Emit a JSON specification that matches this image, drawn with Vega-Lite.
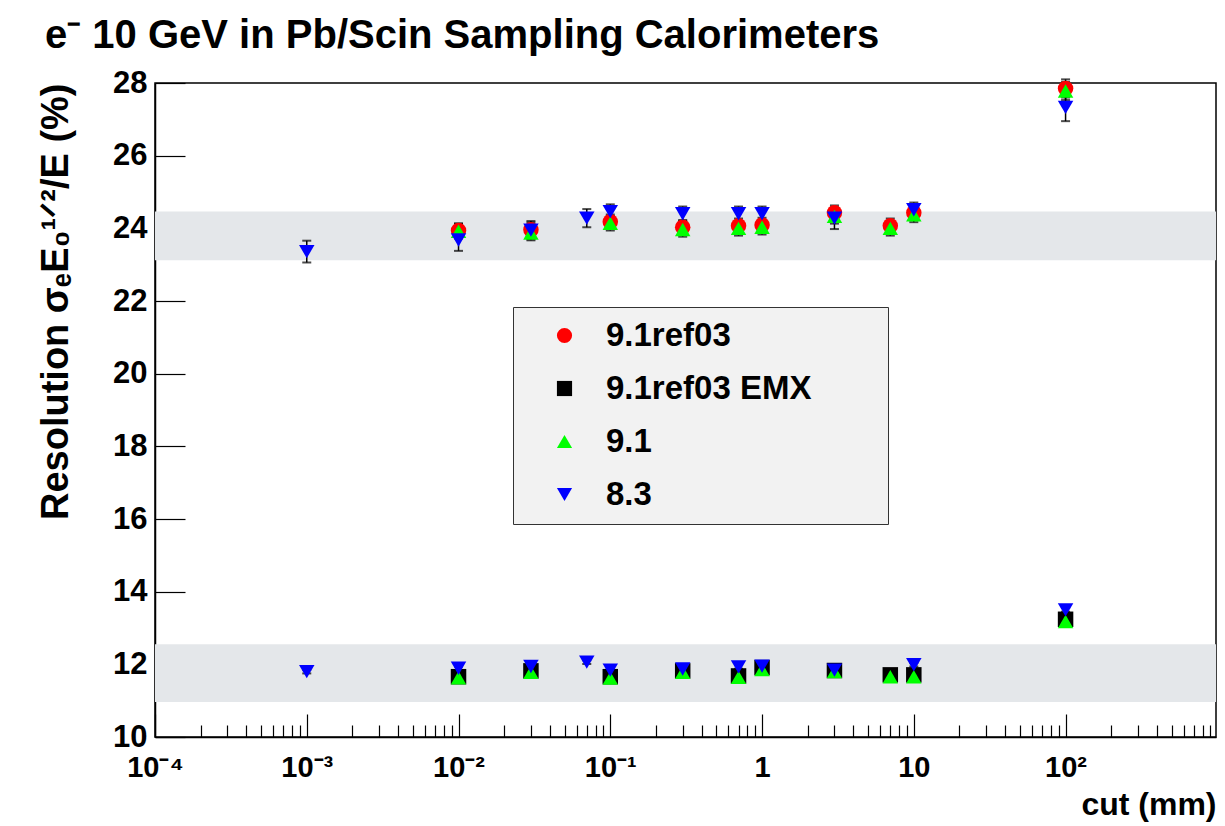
{
  "$schema": "https://vega.github.io/schema/vega-lite/v6.json",
  "autosize": {"type": "none"},
  "width": 1061,
  "height": 654,
  "padding": {"left": 155, "top": 83, "right": 9, "bottom": 89},
  "background": "white",
  "title": {
    "text": "e⁻ 10 GeV in Pb/Scin Sampling Calorimeters",
    "anchor": "start",
    "frame": "group",
    "dx": -110,
    "offset": 11,
    "font": "Liberation Sans",
    "fontSize": 40,
    "fontWeight": "bold",
    "color": "black"
  },
  "datasets": {
    "bands": [
      {"x1": 0.0001, "x2": 980, "lo": 23.12, "hi": 24.46},
      {"x1": 0.0001, "x2": 980, "lo": 10.96, "hi": 12.55}
    ],
    "pts": [
      {"cut": 0.01, "series": "9.1ref03", "res": 23.94, "err": 0.2},
      {"cut": 0.03, "series": "9.1ref03", "res": 23.96, "err": 0.2},
      {"cut": 0.1, "series": "9.1ref03", "res": 24.18, "err": 0.2},
      {"cut": 0.3, "series": "9.1ref03", "res": 24.03, "err": 0.2},
      {"cut": 0.7, "series": "9.1ref03", "res": 24.07, "err": 0.2},
      {"cut": 1, "series": "9.1ref03", "res": 24.09, "err": 0.2},
      {"cut": 3, "series": "9.1ref03", "res": 24.43, "err": 0.2},
      {"cut": 7, "series": "9.1ref03", "res": 24.07, "err": 0.2},
      {"cut": 10, "series": "9.1ref03", "res": 24.43, "err": 0.2},
      {"cut": 100, "series": "9.1ref03", "res": 27.85, "err": 0.25},

      {"cut": 0.01, "series": "9.1ref03 EMX", "res": 11.66, "err": 0.05},
      {"cut": 0.03, "series": "9.1ref03 EMX", "res": 11.82, "err": 0.05},
      {"cut": 0.1, "series": "9.1ref03 EMX", "res": 11.66, "err": 0.05},
      {"cut": 0.3, "series": "9.1ref03 EMX", "res": 11.82, "err": 0.05},
      {"cut": 0.7, "series": "9.1ref03 EMX", "res": 11.68, "err": 0.05},
      {"cut": 1, "series": "9.1ref03 EMX", "res": 11.91, "err": 0.05},
      {"cut": 3, "series": "9.1ref03 EMX", "res": 11.83, "err": 0.05},
      {"cut": 7, "series": "9.1ref03 EMX", "res": 11.71, "err": 0.05},
      {"cut": 10, "series": "9.1ref03 EMX", "res": 11.71, "err": 0.05},
      {"cut": 100, "series": "9.1ref03 EMX", "res": 13.24, "err": 0.05},

      {"cut": 0.01, "series": "9.1", "res": 23.92, "err": 0.2},
      {"cut": 0.03, "series": "9.1", "res": 23.87, "err": 0.2},
      {"cut": 0.1, "series": "9.1", "res": 24.14, "err": 0.2},
      {"cut": 0.3, "series": "9.1", "res": 23.97, "err": 0.2},
      {"cut": 0.7, "series": "9.1", "res": 24.0, "err": 0.2},
      {"cut": 1, "series": "9.1", "res": 24.03, "err": 0.2},
      {"cut": 3, "series": "9.1", "res": 24.33, "err": 0.2},
      {"cut": 7, "series": "9.1", "res": 24.0, "err": 0.2},
      {"cut": 10, "series": "9.1", "res": 24.37, "err": 0.2},
      {"cut": 100, "series": "9.1", "res": 27.78, "err": 0.25},
      {"cut": 0.01, "series": "9.1", "res": 11.63, "err": 0.05},
      {"cut": 0.03, "series": "9.1", "res": 11.78, "err": 0.05},
      {"cut": 0.1, "series": "9.1", "res": 11.62, "err": 0.05},
      {"cut": 0.3, "series": "9.1", "res": 11.78, "err": 0.05},
      {"cut": 0.7, "series": "9.1", "res": 11.64, "err": 0.05},
      {"cut": 1, "series": "9.1", "res": 11.86, "err": 0.05},
      {"cut": 3, "series": "9.1", "res": 11.8, "err": 0.05},
      {"cut": 7, "series": "9.1", "res": 11.66, "err": 0.05},
      {"cut": 10, "series": "9.1", "res": 11.66, "err": 0.05},
      {"cut": 100, "series": "9.1", "res": 13.18, "err": 0.05},

      {"cut": 0.001, "series": "8.3", "res": 23.36, "err": 0.3},
      {"cut": 0.01, "series": "8.3", "res": 23.68, "err": 0.3},
      {"cut": 0.03, "series": "8.3", "res": 23.95, "err": 0.25},
      {"cut": 0.07, "series": "8.3", "res": 24.28, "err": 0.25},
      {"cut": 0.1, "series": "8.3", "res": 24.46, "err": 0.2},
      {"cut": 0.3, "series": "8.3", "res": 24.4, "err": 0.2},
      {"cut": 0.7, "series": "8.3", "res": 24.4, "err": 0.2},
      {"cut": 1, "series": "8.3", "res": 24.4, "err": 0.2},
      {"cut": 3, "series": "8.3", "res": 24.28, "err": 0.3},
      {"cut": 10, "series": "8.3", "res": 24.51, "err": 0.2},
      {"cut": 100, "series": "8.3", "res": 27.33, "err": 0.38},
      {"cut": 0.001, "series": "8.3", "res": 11.8, "err": 0.05},
      {"cut": 0.01, "series": "8.3", "res": 11.89, "err": 0.05},
      {"cut": 0.03, "series": "8.3", "res": 11.94, "err": 0.05},
      {"cut": 0.07, "series": "8.3", "res": 12.06, "err": 0.05},
      {"cut": 0.1, "series": "8.3", "res": 11.84, "err": 0.05},
      {"cut": 0.3, "series": "8.3", "res": 11.87, "err": 0.05},
      {"cut": 0.7, "series": "8.3", "res": 11.93, "err": 0.05},
      {"cut": 1, "series": "8.3", "res": 11.95, "err": 0.05},
      {"cut": 3, "series": "8.3", "res": 11.84, "err": 0.05},
      {"cut": 10, "series": "8.3", "res": 11.99, "err": 0.05},
      {"cut": 100, "series": "8.3", "res": 13.5, "err": 0.05}
    ]
  },
  "layer": [
    {
      "data": {"name": "bands"},
      "mark": {"type": "rect", "fill": "#e4e7ea", "stroke": null},
      "encoding": {
        "x": {"field": "x1", "type": "quantitative", "title": "cut (mm)", "scale": {"type": "log", "domain": [0.0001, 980], "nice": false},
          "axis": {
            "title": "cut (mm)",
            "values": [0.0001,0.0002,0.0003,0.0004,0.0005,0.0006,0.0007,0.0008,0.0009,
                       0.001,0.002,0.003,0.004,0.005,0.006,0.007,0.008,0.009,
                       0.01,0.02,0.03,0.04,0.05,0.06,0.07,0.08,0.09,
                       0.1,0.2,0.3,0.4,0.5,0.6,0.7,0.8,0.9,
                       1,2,3,4,5,6,7,8,9,
                       10,20,30,40,50,60,70,80,90,
                       100,200,300,400,500,600,700,800,900],
            "labelExpr": "datum.value==0.0001?'10⁻⁴':datum.value==0.001?'10⁻³':datum.value==0.01?'10⁻²':datum.value==0.1?'10⁻¹':datum.value==1?'1':datum.value==10?'10':datum.value==100?'10²':''",
            "tickSize": {"condition": {"test": "indexof([0.0001,0.001,0.01,0.1,1,10,100], datum.value) >= 0", "value": -23}, "value": -12},
            "labelPadding": 39,
            "labelFontSize": 29,
            "titleAnchor": "end",
            "titleFontSize": 32,
            "titlePadding": -4
          }
        },
        "x2": {"field": "x2"},
        "y": {"field": "lo", "type": "quantitative", "title": "Resolution σₑE₀¹ᐟ²/E (%)", "scale": {"domain": [10, 28], "nice": false, "zero": false},
          "axis": {
            "title": "Resolution σₑE₀¹ᐟ²/E (%)",
            "values": [10,11,12,13,14,15,16,17,18,19,20,21,22,23,24,25,26,27,28],
            "labelExpr": "datum.value % 2 == 0 ? datum.label : ''",
            "tickSize": {"condition": {"test": "datum.value % 2 == 0", "value": -30}, "value": -14},
            "labelPadding": 38,
            "labelFontSize": 31,
            "titleAngle": 270,
            "titleAnchor": "end",
            "titleAlign": "right",
            "titleBaseline": "middle",
            "titleX": -99,
            "titleY": 0,
            "titleFontSize": 38
          }
        },
        "y2": {"field": "hi"}
      }
    },
    {
      "data": {"name": "pts"},
      "mark": {"type": "errorbar", "color": "black", "thickness": 1.5, "ticks": {"size": 9, "color": "black", "thickness": 2}},
      "encoding": {
        "x": {"field": "cut", "type": "quantitative", "title": "cut (mm)"},
        "y": {"field": "res", "type": "quantitative", "title": "Resolution σₑE₀¹ᐟ²/E (%)"},
        "yError": {"field": "err"}
      }
    },
    {
      "data": {"name": "pts"},
      "mark": {"type": "point", "filled": true, "size": 240, "opacity": 1, "strokeWidth": 0},
      "encoding": {
        "x": {"field": "cut", "type": "quantitative", "title": "cut (mm)"},
        "y": {"field": "res", "type": "quantitative", "title": "Resolution σₑE₀¹ᐟ²/E (%)"},
        "color": {"field": "series", "type": "nominal", "title": null,
          "legend": {"labelExpr": "datum.label + '\u00a0\u00a0\u00a0\u00a0\u00a0\u00a0\u00a0\u200b'"},
          "scale": {"domain": ["9.1ref03", "9.1ref03 EMX", "9.1", "8.3"], "range": ["#ff0000", "#000000", "#00ff00", "#0000ff"]}},
        "shape": {"field": "series", "type": "nominal", "title": null,
          "legend": {"labelExpr": "datum.label + '\u00a0\u00a0\u00a0\u00a0\u00a0\u00a0\u00a0\u200b'"},
          "scale": {"domain": ["9.1ref03", "9.1ref03 EMX", "9.1", "8.3"], "range": ["circle", "square", "triangle-up", "triangle-down"]}}
      }
    }
  ],
  "config": {
    "view": {"stroke": "black", "strokeWidth": 1.5},
    "axis": {
      "grid": false,
      "domainColor": "black",
      "domainWidth": 1.5,
      "tickColor": "black",
      "tickWidth": 1.2,
      "labelFont": "Liberation Sans",
      "labelFontWeight": "bold",
      "labelColor": "black",
      "labelFlush": false,
      "labelOverlap": false,
      "labelBound": false,
      "titleFont": "Liberation Sans",
      "titleFontWeight": "bold",
      "titleColor": "black"
    },
    "legend": {
      "orient": "none",
      "legendX": 358,
      "legendY": 224,
      "fillColor": "#f2f2f2",
      "strokeColor": "#333333",
      "padding": 12,
      "rowPadding": 19,
      "symbolSize": 230,
      "symbolStrokeWidth": 0,
      "symbolOffset": 23,
      "labelOffset": 25,
      "labelFont": "Liberation Sans",
      "labelFontWeight": "bold",
      "labelFontSize": 33,
      "labelColor": "black",
      "labelLimit": 500
    }
  }
}
